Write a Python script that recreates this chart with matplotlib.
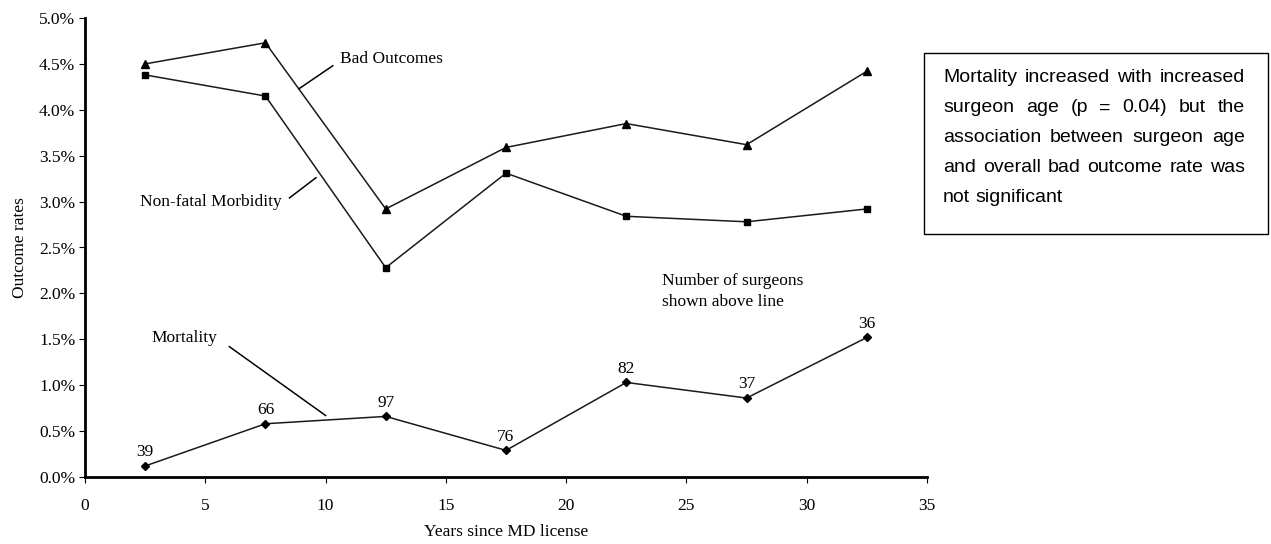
import matplotlib
matplotlib.use("Agg")
import matplotlib.pyplot as plt
from matplotlib.patches import Rectangle

years = [2.5, 7.5, 12.5, 17.5, 22.5, 27.5, 32.5]
bad_outcomes = [4.50, 4.73, 2.92, 3.59, 3.85, 3.62, 4.42]
nonfatal_morbidity = [4.38, 4.15, 2.28, 3.31, 2.84, 2.78, 2.92]
mortality = [0.12, 0.58, 0.66, 0.29, 1.03, 0.86, 1.52]
surgeon_counts = [39, 66, 97, 76, 82, 37, 36]
x_ticks = [0, 5, 10, 15, 20, 25, 30, 35]
y_ticks = [0.0, 0.5, 1.0, 1.5, 2.0, 2.5, 3.0, 3.5, 4.0, 4.5, 5.0]
note_lines = [
    "Mortality increased with increased",
    "surgeon age (p = 0.04) but the",
    "association between surgeon age",
    "and overall bad outcome rate was",
    "not significant",
]

W, H = 1271, 544
fig = plt.figure(figsize=(W / 100, H / 100), dpi=100)
ax = fig.add_axes([85 / W, (H - 477) / H, (927 - 85) / W, (477 - 18) / H])

serif = "Liberation Serif"
fs = 12.5
lc = "#1a1a1a"

ax.plot(years, bad_outcomes, color=lc, lw=1.1, marker="^", ms=6, mfc="black", mec="black")
ax.plot(years, nonfatal_morbidity, color=lc, lw=1.1, marker="s", ms=5, mfc="black", mec="black")
ax.plot(years, mortality, color=lc, lw=1.1, marker="D", ms=4.5, mfc="black", mec="black")

for x, y, n in zip(years, mortality, surgeon_counts):
    ax.annotate(str(n), (x, y), xytext=(0, 4), textcoords="offset points",
                ha="center", va="bottom", fontsize=fs, family=serif)

ax.set_xlim(0, 35)
ax.set_ylim(0, 5.0)
ax.set_xticks(x_ticks)
ax.set_yticks(y_ticks)
ax.set_yticklabels([f"{v:.1f}%" for v in y_ticks])
for lab in ax.get_xticklabels() + ax.get_yticklabels():
    lab.set_family(serif)
    lab.set_fontsize(fs)
ax.tick_params(axis="x", length=4, width=0.8, pad=11, direction="out")
ax.tick_params(axis="y", length=4, width=0.8, pad=3, direction="out")
for s in ["top", "right"]:
    ax.spines[s].set_visible(False)
for s in ["left", "bottom"]:
    ax.spines[s].set_linewidth(2.0)
ax.set_xlabel("Years since MD license", family=serif, fontsize=fs, labelpad=7)
ax.set_ylabel("Outcome rates", family=serif, fontsize=fs, labelpad=8)

# series labels with leader lines
ax.text(10.6, 4.55, "Bad Outcomes", family=serif, fontsize=fs, ha="left", va="center")
ax.plot([8.9, 10.3], [4.23, 4.48], color="black", lw=1.1)
ax.text(2.3, 3.0, "Non-fatal Morbidity", family=serif, fontsize=fs, ha="left", va="center")
ax.plot([8.5, 9.6], [3.04, 3.26], color="black", lw=1.1)
ax.text(2.75, 1.51, "Mortality", family=serif, fontsize=fs, ha="left", va="center")
ax.plot([6.0, 10.0], [1.42, 0.67], color="black", lw=1.1)
ax.text(24.0, 2.02, "Number of surgeons\nshown above line", family=serif, fontsize=fs,
        ha="left", va="center", linespacing=1.35)

# note box
fig.patches.append(Rectangle((924 / W, (H - 234) / H), (1268 - 924) / W, (234 - 53) / H,
                             transform=fig.transFigure, fill=False, ec="black", lw=1.0))
sans = "Liberation Sans"
nfs = 14
renderer = fig.canvas.get_renderer()
left_px, right_px = 943, 1245
y0 = 78
for i, line in enumerate(note_lines):
    words = line.split(" ")
    ypx = y0 + i * 30
    texts = []
    widths = []
    for w in words:
        t = fig.text(0, 1 - ypx / H, w, family=sans, fontsize=nfs, va="center", ha="left")
        texts.append(t)
        widths.append(t.get_window_extent(renderer).width)
    if i < len(note_lines) - 1 and len(words) > 1:
        gap = (right_px - left_px - sum(widths)) / (len(words) - 1)
    else:
        sp = fig.text(0, 0, "a a", family=sans, fontsize=nfs)
        sp2 = fig.text(0, 0, "aa", family=sans, fontsize=nfs)
        gap = sp.get_window_extent(renderer).width - sp2.get_window_extent(renderer).width
        sp.remove(); sp2.remove()
    x = left_px
    for t, wd in zip(texts, widths):
        t.set_x(x / W)
        x += wd + gap

fig.savefig("out.png", dpi=100)
